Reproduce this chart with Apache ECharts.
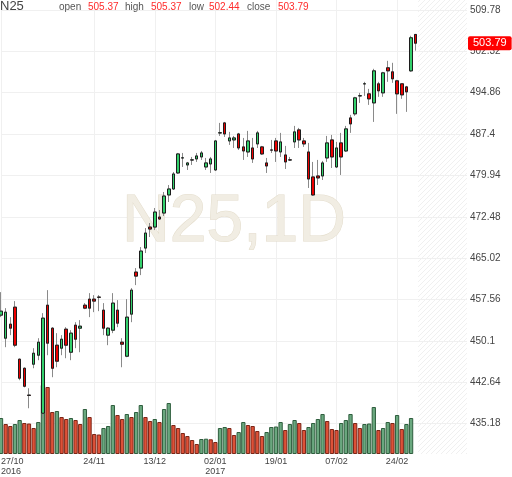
<!DOCTYPE html>
<html>
<head>
<meta charset="utf-8">
<script src="https://cdn.jsdelivr.net/npm/echarts@6/dist/echarts.min.js"></script>
<style>
html, body { margin: 0; padding: 0; background: #fff; }
#main { width: 512px; height: 477px; }
</style>
</head>
<body>
<div id="main"></div>
<script>
var symbolName = 'N25';
var period = '1D';

// trading days (the last ones are the empty future area)
var dates = [
    '27/10/2016','28/10/2016','31/10/2016','01/11/2016','02/11/2016','03/11/2016','04/11/2016','07/11/2016','08/11/2016','09/11/2016',
    '10/11/2016','11/11/2016','14/11/2016','15/11/2016','16/11/2016','17/11/2016','18/11/2016','21/11/2016','22/11/2016','23/11/2016',
    '24/11/2016','25/11/2016','28/11/2016','29/11/2016','30/11/2016','01/12/2016','02/12/2016','05/12/2016','06/12/2016','07/12/2016',
    '08/12/2016','09/12/2016','12/12/2016','13/12/2016','14/12/2016','15/12/2016','16/12/2016','19/12/2016','20/12/2016','21/12/2016',
    '22/12/2016','23/12/2016','27/12/2016','28/12/2016','29/12/2016','30/12/2016','02/01/2017','03/01/2017','04/01/2017','05/01/2017',
    '06/01/2017','09/01/2017','10/01/2017','11/01/2017','12/01/2017','13/01/2017','16/01/2017','17/01/2017','18/01/2017','19/01/2017',
    '20/01/2017','23/01/2017','24/01/2017','25/01/2017','26/01/2017','27/01/2017','30/01/2017','31/01/2017','01/02/2017','02/02/2017',
    '03/02/2017','06/02/2017','07/02/2017','08/02/2017','09/02/2017','10/02/2017','13/02/2017','14/02/2017','15/02/2017','16/02/2017',
    '17/02/2017','20/02/2017','21/02/2017','22/02/2017','23/02/2017','24/02/2017','27/02/2017','28/02/2017','01/03/2017','02/03/2017',
    '03/03/2017','06/03/2017','07/03/2017','08/03/2017','09/03/2017','10/03/2017','13/03/2017','14/03/2017','15/03/2017','16/03/2017',
    '17/03/2017'
];
var futureStart = 90;

var opens = [
    454.73, 450.57, 453.10, 456.17, 446.78, 445.15, 440.30, 445.88, 447.50, 437.03,
    456.53, 452.38, 449.31, 448.77, 452.20, 448.04, 452.92, 452.38, 456.53, 457.62,
    457.62, 457.98, 455.63, 451.12, 452.02, 455.63, 449.85, 447.32, 454.91, 462.50,
    463.22, 466.83, 470.62, 470.62, 472.43, 473.15, 476.41, 477.49, 480.38, 483.09,
    481.82, 482.72, 482.91, 483.27, 481.46, 482.00, 480.92, 487.60, 489.41, 486.16,
    486.34, 487.42, 485.08, 484.17, 484.89, 485.62, 485.08, 482.19, 484.53, 486.16,
    484.17, 483.63, 482.74, 485.98, 488.15, 486.16, 484.17, 479.66, 479.84, 479.84,
    483.09, 486.34, 481.46, 485.80, 484.35, 490.31, 491.04, 494.29, 496.45, 494.65,
    493.02, 496.46, 494.83, 499.35, 498.62, 497.00, 496.46, 495.91, 498.80, 505.37
];
var highs = [
    458.88, 455.99, 454.37, 457.26, 446.90, 445.30, 441.54, 448.77, 450.57, 455.09,
    459.24, 452.56, 451.48, 451.12, 452.56, 452.02, 453.46, 453.83, 456.90, 458.70,
    458.34, 458.34, 456.90, 452.56, 458.70, 457.44, 450.57, 457.62, 459.61, 463.22,
    467.01, 470.44, 471.35, 474.06, 473.70, 476.95, 478.21, 480.56, 483.99, 483.99,
    482.37, 483.27, 483.99, 484.35, 483.09, 483.27, 486.34, 489.41, 489.59, 487.79,
    487.06, 487.61, 486.70, 487.97, 486.70, 487.97, 485.26, 483.09, 486.34, 486.70,
    487.61, 485.26, 483.27, 488.87, 488.51, 486.70, 485.80, 482.37, 482.73, 482.55,
    487.06, 487.24, 485.98, 487.61, 488.87, 490.86, 494.11, 494.83, 496.82, 495.55,
    499.17, 496.82, 498.62, 500.61, 500.25, 497.18, 496.46, 496.09, 505.13, 505.37
];
var lows = [
    454.37, 448.95, 451.12, 448.95, 442.99, 441.70, 437.93, 445.15, 446.60, 436.12,
    447.50, 443.53, 445.33, 447.50, 446.96, 446.60, 448.77, 448.04, 455.81, 454.37,
    455.27, 455.45, 451.12, 449.31, 451.48, 452.56, 445.33, 447.14, 453.46, 460.15,
    461.95, 465.93, 468.82, 470.08, 471.89, 472.61, 475.14, 477.31, 480.20, 481.46,
    480.92, 481.82, 482.37, 482.73, 480.92, 480.38, 480.74, 487.06, 486.88, 485.44,
    484.89, 484.53, 482.73, 483.27, 482.19, 484.89, 483.63, 480.38, 483.99, 482.37,
    483.27, 481.10, 482.55, 484.89, 484.89, 485.08, 477.67, 476.23, 478.21, 479.11,
    482.37, 481.28, 481.28, 480.02, 484.17, 487.61, 490.68, 493.02, 494.29, 492.66,
    489.59, 494.11, 494.11, 496.82, 496.64, 491.04, 493.75, 491.40, 498.62, 502.44
];
var closes = [
    455.45, 455.27, 452.38, 449.31, 443.35, 441.90, 440.25, 447.86, 449.85, 454.19,
    449.67, 445.15, 446.42, 450.39, 449.31, 451.48, 450.39, 452.74, 455.99, 455.99,
    457.26, 457.95, 452.38, 452.38, 456.90, 453.28, 449.49, 454.37, 459.24, 461.77,
    466.29, 469.54, 470.26, 473.33, 472.07, 476.22, 477.49, 480.20, 483.81, 483.11,
    482.19, 482.74, 483.45, 483.99, 482.19, 482.91, 486.16, 487.63, 487.42, 486.70,
    486.70, 484.89, 484.35, 486.16, 482.91, 487.61, 483.81, 481.64, 484.50, 484.35,
    485.98, 482.37, 482.72, 487.79, 486.34, 485.62, 479.29, 476.41, 479.48, 482.19,
    485.80, 483.27, 484.89, 483.27, 488.33, 489.23, 493.93, 494.31, 496.47, 493.75,
    498.80, 495.19, 498.44, 498.80, 497.36, 494.65, 494.47, 495.01, 504.77, 503.79
];
// volume, millions (last session not reported yet)
var volumes = [
    3.6, 3.0, 2.8, 3.0, 3.4, 3.1, 3.05, 2.6, 3.2, 6.9,
    6.7, 4.2, 4.3, 3.7, 3.5, 3.6, 3.4, 3.0, 4.5, 3.7,
    2.0, 1.95, 2.6, 2.8, 4.9, 3.9, 3.5, 4.0, 3.7, 4.2,
    4.9, 3.7, 3.3, 3.5, 3.2, 4.5, 5.1, 2.9, 2.6, 2.1,
    1.8, 1.4, 1.0, 1.5, 1.53, 1.47, 1.2, 2.6, 2.7, 2.6,
    1.9, 2.2, 3.2, 2.9, 2.8, 2.3, 1.8, 2.2, 2.7, 2.75,
    3.2, 2.4, 3.0, 3.4, 3.1, 2.4, 2.7, 3.1, 3.5, 4.0,
    3.3, 2.5, 2.4, 3.1, 3.4, 4.0, 3.1, 2.6, 3.0, 3.05,
    4.7, 2.4, 2.6, 3.2, 3.1, 3.9, 2.5, 3.0, 3.6, '-'
];

var tickDays = ['27/10/2016', '24/11/2016', '13/12/2016', '02/01/2017', '19/01/2017', '07/02/2017', '24/02/2017'];
var priceMin = 427.72, priceMax = 517.24, priceStep = 7.46;
var volumeMax = 45.4;

var upColor = '#33d06c', downColor = '#ee0000';
var volUpColor = '#6aa87f', volUpBorder = '#2f5e3e';
var volDownColor = '#de5138', volDownBorder = '#7b2617';

var candleData = [], bodyData = [], volumeData = [];
for (var i = 0; i < opens.length; i++) {
    candleData.push([opens[i], closes[i], lows[i], highs[i]]);
    bodyData.push([opens[i], closes[i], Math.min(opens[i], closes[i]), Math.max(opens[i], closes[i])]);
    var v = volumes[i];
    if (v === '-') { volumeData.push('-'); continue; }
    var up = i === 0 || v >= volumes[i - 1];
    volumeData.push({
        value: v,
        itemStyle: { color: up ? volUpColor : volDownColor, borderColor: up ? volUpBorder : volDownBorder }
    });
}

var yearShown = {};
tickDays.forEach(function (d, k) {
    if (k === 0 || d.slice(6) !== tickDays[k - 1].slice(6)) yearShown[d] = true;
});
function isTick(idx, value) { return tickDays.indexOf(value) >= 0; }

// hatch for the future area
var hatch = document.createElement('canvas');
hatch.width = 5; hatch.height = 5;
var g = hatch.getContext('2d');
g.strokeStyle = '#f0f0f0';
g.lineWidth = 1;
g.beginPath();
g.moveTo(0, 5); g.lineTo(5, 0);
g.moveTo(-1, 1); g.lineTo(1, -1);
g.moveTo(4, 6); g.lineTo(6, 4);
g.stroke();

var last = opens.length - 1;
var ohlcText = [
    ['open', opens[last], 59, 88],
    ['high', highs[last], 125, 151],
    ['low', lows[last], 189, 209],
    ['close', closes[last], 247, 278]
];
var font = 'Liberation Sans, Arial, sans-serif';
var headerGraphics = [{
    type: 'text', left: 0, top: 0, z: 10,
    style: { text: symbolName, fontSize: 13, fill: '#444', fontFamily: font }
}];
ohlcText.forEach(function (t) {
    headerGraphics.push({ type: 'text', x: t[2], y: 7, z: 10,
        style: { text: t[0], fontSize: 10, fill: '#555', textVerticalAlign: 'middle', fontFamily: font } });
    headerGraphics.push({ type: 'text', x: t[3], y: 7, z: 10,
        style: { text: t[1].toFixed(2), fontSize: 10, fill: '#ff2a2a', textVerticalAlign: 'middle', fontFamily: font } });
});
headerGraphics.push({
    type: 'text', x: 234, y: 223, z: 1, silent: true,
    style: {
        text: symbolName + ',' + period, fontSize: 66, fill: '#f1ede3', stroke: '#e3dccb', lineWidth: 1,
        textAlign: 'center', textVerticalAlign: 'middle', fontFamily: font
    }
});

var myChart = echarts.init(document.getElementById('main'));

var option = {
    animation: false,
    textStyle: { fontFamily: font },
    graphic: headerGraphics,
    grid: [
        { left: 1, right: 45, top: -31.35, bottom: 12.15, outerBoundsMode: 'none' },
        { left: 1, right: 45, top: 0, bottom: 23, outerBoundsMode: 'none' }
    ],
    xAxis: [{
        type: 'category', gridIndex: 0, data: dates, boundaryGap: false, show: false
    }, {
        type: 'category', gridIndex: 1, data: dates, boundaryGap: false,
        axisLine: { show: false },
        axisTick: { show: false },
        axisLabel: {
            interval: isTick,
            alignMinLabel: 'left',
            fontSize: 9, lineHeight: 9.5, color: '#444', margin: 3,
            formatter: function (value) {
                return value.slice(0, 5) + (yearShown[value] ? '\n' + value.slice(6) : '');
            }
        },
        splitLine: { show: true, interval: isTick, lineStyle: { color: '#f0f0f0' } }
    }],
    yAxis: [{
        type: 'value', gridIndex: 0, position: 'right',
        min: priceMin, max: priceMax, interval: priceStep,
        axisLine: { show: false },
        axisTick: { show: false },
        axisLabel: {
            showMinLabel: false, showMaxLabel: false,
            fontSize: 10, color: '#444', margin: 3,
            formatter: function (v) { return String(parseFloat(v.toFixed(2))); }
        },
        splitLine: { lineStyle: { color: '#f0f0f0' }, showMinLine: false }
    }, {
        type: 'value', gridIndex: 1, min: 0, max: volumeMax, show: false
    }],
    series: [{
        name: 'volume', type: 'bar', xAxisIndex: 1, yAxisIndex: 1,
        data: volumeData, barCategoryGap: '8%', z: 2, silent: true,
        itemStyle: { borderWidth: 1 }
    }, {
        name: 'wick', type: 'candlestick', xAxisIndex: 0, yAxisIndex: 0,
        data: candleData, barWidth: 3, z: 3, silent: true,
        itemStyle: { color: upColor, color0: downColor, borderColor: '#8a8a8a', borderColor0: '#8a8a8a', borderColorDoji: '#8a8a8a', borderWidth: 1 }
    }, {
        name: symbolName, type: 'candlestick', xAxisIndex: 0, yAxisIndex: 0,
        data: bodyData, barWidth: 3, z: 4, silent: true,
        itemStyle: { color: upColor, color0: downColor, borderColor: '#1c1c1c', borderColor0: '#1c1c1c', borderColorDoji: '#1c1c1c', borderWidth: 1 },
        markLine: {
            silent: true, symbol: 'none',
            lineStyle: { color: 'rgba(0,0,0,0)', width: 0 },
            label: {
                show: true, position: 'end', distance: 1,
                formatter: function () { return closes[last].toFixed(2); },
                backgroundColor: '#ff0000', color: '#fff', fontSize: 11,
                padding: [2, 5, 1, 5], borderRadius: 2
            },
            data: [{ yAxis: closes[last] }]
        }
    }]
};

myChart.setOption(option);

// hatched future area, placed through the axes
var xLast = myChart.convertToPixel({ xAxisIndex: 1 }, dates[futureStart - 1]);
var xNext = myChart.convertToPixel({ xAxisIndex: 1 }, dates[futureStart]);
var xEnd = myChart.convertToPixel({ xAxisIndex: 1 }, dates[dates.length - 1]);
var yTop = myChart.convertToPixel({ yAxisIndex: 1 }, volumeMax);
var yBottom = myChart.convertToPixel({ yAxisIndex: 1 }, 0);
var x0 = (xLast + xNext) / 2;
headerGraphics.push({
    type: 'rect', z: 1, silent: true,
    shape: { x: x0, y: yTop, width: xEnd - x0, height: yBottom - yTop },
    style: { fill: { image: hatch, repeat: 'repeat' } }
});
myChart.setOption({ graphic: headerGraphics });
</script>
</body>
</html>
